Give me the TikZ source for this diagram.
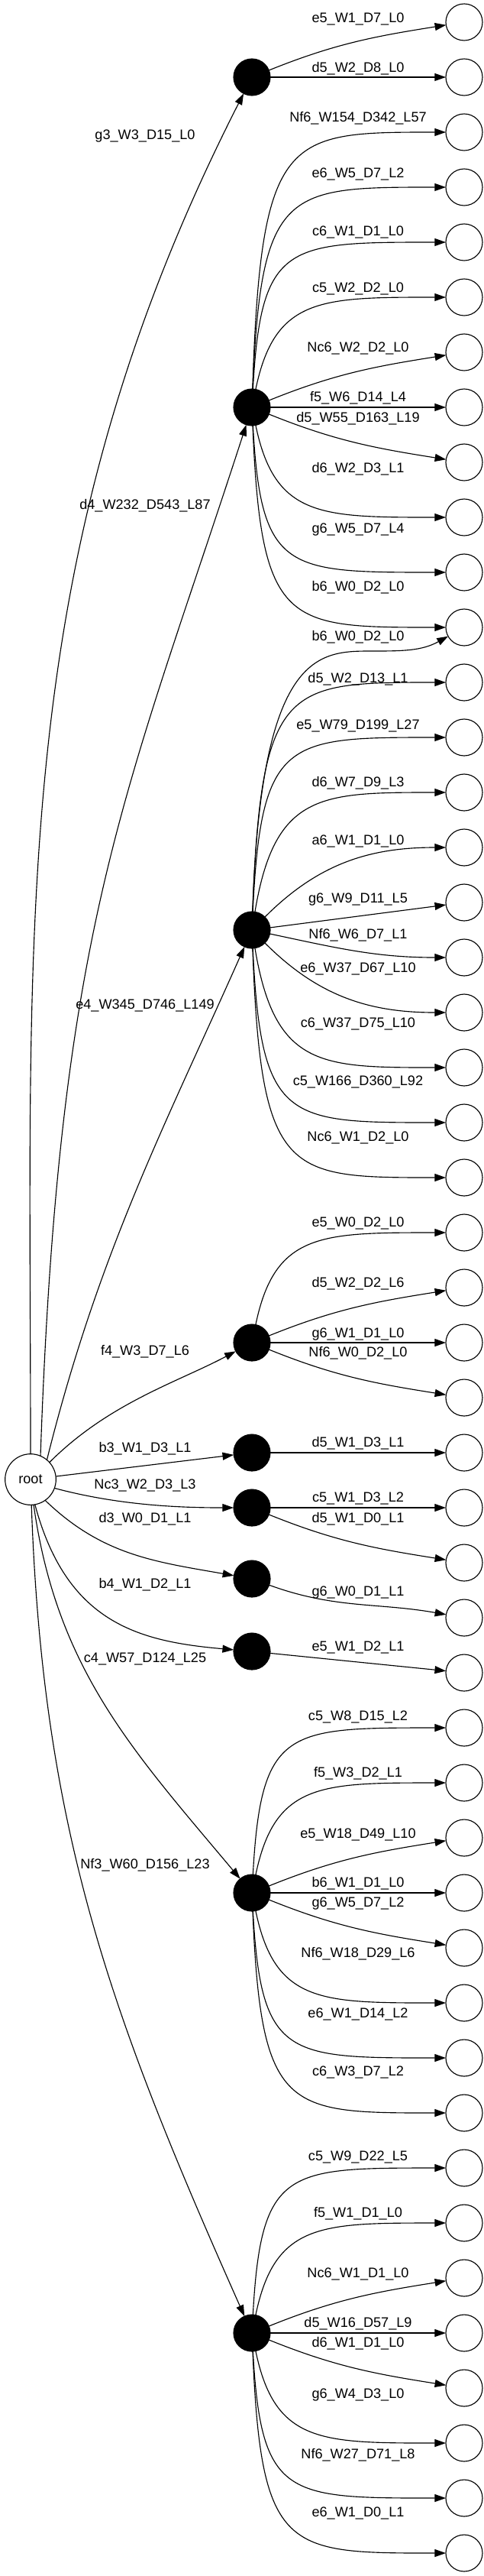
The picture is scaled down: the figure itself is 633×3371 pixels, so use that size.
\documentclass[tikz,border=0pt]{standalone}
\usepackage{fontspec}
\setmainfont{Liberation Sans}
\usetikzlibrary{arrows.meta,calc}

\begin{document}
\begin{tikzpicture}[x=0.75pt,y=0.75pt,
	leaf/.style={circle,draw,line width=0.85pt,minimum size=36pt,inner sep=0pt,outer sep=0pt},
	ply/.style={circle,draw,fill=black,line width=0.85pt,minimum size=36pt,inner sep=0pt,outer sep=0pt},
	rootnode/.style={circle,draw,line width=0.85pt,minimum size=50pt,inner sep=0pt,outer sep=0pt,font=\fontsize{13.6pt}{16pt}\selectfont},
	lab/.style={inner sep=0pt,font=\fontsize{13.6pt}{16pt}\selectfont},
	branch/.style={line width=0.85pt,-{Triangle[length=11pt,width=7.5pt]}},
	upone/.style={out=22,in=189},
	downone/.style={out=-22,in=171},
	midbend/.style={to path={.. controls ($(\tikztostart |- \tikztotarget)+(30,0)$) and ($(\tikztostart |- \tikztotarget)+(90,0)$) .. (\tikztotarget) \tikztonodes}},
	farbend/.style={to path={.. controls ($(\tikztostart |- \tikztotarget)+(12,0)$) and ($(\tikztostart |- \tikztotarget)+(45,0)$) .. (\tikztotarget) \tikztonodes}}]
	\useasboundingbox (0,0) rectangle (633,-3371);
	% arrel
	\node[rootnode] (root) at (40,-1936) {root};
	% jugades
	\node[ply] (g3) at (330,-101) {};
	\node[ply] (d4) at (330,-533) {};
	\node[ply] (e4) at (330,-1217) {};
	\node[ply] (f4) at (330,-1757) {};
	\node[ply] (b3) at (330,-1901) {};
	\node[ply] (Nc3) at (330,-1973) {};
	\node[ply] (d3) at (330,-2066) {};
	\node[ply] (b4) at (330,-2161) {};
	\node[ply] (c4) at (330,-2477) {};
	\node[ply] (Nf3) at (330,-3053) {};
	% fulles
	\node[leaf] (l0) at (608,-29) {};
	\node[leaf] (l1) at (608,-101) {};
	\node[leaf] (l2) at (608,-173) {};
	\node[leaf] (l3) at (608,-245) {};
	\node[leaf] (l4) at (608,-317) {};
	\node[leaf] (l5) at (608,-389) {};
	\node[leaf] (l6) at (608,-461) {};
	\node[leaf] (l7) at (608,-533) {};
	\node[leaf] (l8) at (608,-605) {};
	\node[leaf] (l9) at (608,-677) {};
	\node[leaf] (l10) at (608,-749) {};
	\node[leaf] (l11) at (608,-821) {};
	\node[leaf] (l12) at (608,-893) {};
	\node[leaf] (l13) at (608,-965) {};
	\node[leaf] (l14) at (608,-1037) {};
	\node[leaf] (l15) at (608,-1109) {};
	\node[leaf] (l16) at (608,-1181) {};
	\node[leaf] (l17) at (608,-1253) {};
	\node[leaf] (l18) at (608,-1325) {};
	\node[leaf] (l19) at (608,-1397) {};
	\node[leaf] (l20) at (608,-1469) {};
	\node[leaf] (l21) at (608,-1541) {};
	\node[leaf] (l22) at (608,-1613) {};
	\node[leaf] (l23) at (608,-1685) {};
	\node[leaf] (l24) at (608,-1757) {};
	\node[leaf] (l25) at (608,-1829) {};
	\node[leaf] (l26) at (608,-1901) {};
	\node[leaf] (l27) at (608,-1973) {};
	\node[leaf] (l28) at (608,-2045) {};
	\node[leaf] (l29) at (608,-2117) {};
	\node[leaf] (l30) at (608,-2189) {};
	\node[leaf] (l31) at (608,-2261) {};
	\node[leaf] (l32) at (608,-2333) {};
	\node[leaf] (l33) at (608,-2405) {};
	\node[leaf] (l34) at (608,-2477) {};
	\node[leaf] (l35) at (608,-2549) {};
	\node[leaf] (l36) at (608,-2621) {};
	\node[leaf] (l37) at (608,-2693) {};
	\node[leaf] (l38) at (608,-2765) {};
	\node[leaf] (l39) at (608,-2837) {};
	\node[leaf] (l40) at (608,-2909) {};
	\node[leaf] (l41) at (608,-2981) {};
	\node[leaf] (l42) at (608,-3053) {};
	\node[leaf] (l43) at (608,-3125) {};
	\node[leaf] (l44) at (608,-3197) {};
	\node[leaf] (l45) at (608,-3269) {};
	\node[leaf] (l46) at (608,-3341) {};
	\coordinate (w) at (487,-852);
	% arrel -> jugades
	\draw[branch] (root.north) .. controls +(90:705) and ($(g3)+(-117:705)$) .. (g3);
	\draw[branch] (root.67) .. controls +(88:699) and ($(d4)+(-108:538)$) .. (d4);
	\draw[branch] (root.50) .. controls +(76:280) and ($(e4)+(-114:280)$) .. (e4);
	\draw[branch] (root.42) .. controls +(45:110) and ($(f4)+(-152:110)$) .. (f4);
	\draw[branch] (root) -- (b3);
	\draw[branch] (root.-20) .. controls +(-15:90) and ($(Nc3)+(180:90)$) .. (Nc3);
	\draw[branch] (root.-55) .. controls +(-44:104) and ($(d3)+(170:128)$) .. (d3);
	\draw[branch] (root.-80) .. controls +(-75:160) and ($(b4)+(175:150)$) .. (b4);
	\draw[branch] (root.-83) .. controls +(-82:218) and ($(c4)+(130:242)$) .. (c4);
	\draw[branch] (root.-88) .. controls +(-88:429) and ($(Nf3)+(114:453)$) .. (Nf3);
	\node[lab] (t-g3) at (190,-178) {g3\_W3\_D15\_L0};
	\node[lab] (t-d4) at (190,-662) {d4\_W232\_D543\_L87};
	\node[lab] (t-e4) at (190,-1316) {e4\_W345\_D746\_L149};
	\node[lab] (t-f4) at (190,-1769) {f4\_W3\_D7\_L6};
	\node[lab] (t-b3) at (190,-1896) {b3\_W1\_D3\_L1};
	\node[lab] (t-Nc3) at (190,-1944) {Nc3\_W2\_D3\_L3};
	\node[lab] (t-d3) at (190,-1988) {d3\_W0\_D1\_L1};
	\node[lab] (t-b4) at (190,-2074) {b4\_W1\_D2\_L1};
	\node[lab] (t-c4) at (190,-2171) {c4\_W57\_D124\_L25};
	\node[lab] (t-Nf3) at (190,-2441) {Nf3\_W60\_D156\_L23};
	% g3
	\draw[branch] (g3) to[upone] (l0);
	\draw[branch] (g3) -- (l1);
	% d4
	\draw[branch] (d4) to[farbend] (l2);
	\draw[branch] (d4) to[farbend] (l3);
	\draw[branch] (d4) to[farbend] (l4);
	\draw[branch] (d4) to[midbend] (l5);
	\draw[branch] (d4) to[upone] (l6);
	\draw[branch] (d4) -- (l7);
	\draw[branch] (d4) to[downone] (l8);
	\draw[branch] (d4) to[midbend] (l9);
	\draw[branch] (d4) to[farbend] (l10);
	\draw[branch] (d4) to[farbend] (l11);
	% e4
	\draw[branch] (e4) .. controls ($(e4 |- w)+(12,0)$) and ($(w)+(-70,0)$) .. (w) to[out=0,in=209] (l11);
	\draw[branch] (e4) to[farbend] (l12);
	\draw[branch] (e4) to[farbend] (l13);
	\draw[branch] (e4) to[midbend] (l14);
	\draw[branch] (e4) to[out=45,in=180] (l15);
	\draw[branch] (e4) -- (l16);
	\draw[branch] (e4) to[out=-12,in=180] (l17);
	\draw[branch] (e4) to[out=-45,in=180] (l18);
	\draw[branch] (e4) to[midbend] (l19);
	\draw[branch] (e4) to[farbend] (l20);
	\draw[branch] (e4) to[farbend] (l21);
	% f4
	\draw[branch] (f4) to[midbend] (l22);
	\draw[branch] (f4) to[upone] (l23);
	\draw[branch] (f4) -- (l24);
	\draw[branch] (f4) to[downone] (l25);
	% b3, Nc3, d3, b4
	\draw[branch] (b3) -- (l26);
	\draw[branch] (Nc3) -- (l27);
	\draw[branch] (Nc3) to[downone] (l28);
	\draw[branch] (d3) to[out=-20,in=170] (l29);
	\draw[branch] (b4) -- (l30);
	% c4
	\draw[branch] (c4) to[farbend] (l31);
	\draw[branch] (c4) to[midbend] (l32);
	\draw[branch] (c4) to[upone] (l33);
	\draw[branch] (c4) -- (l34);
	\draw[branch] (c4) to[downone] (l35);
	\draw[branch] (c4) to[midbend] (l36);
	\draw[branch] (c4) to[farbend] (l37);
	\draw[branch] (c4) to[farbend] (l38);
	% Nf3
	\draw[branch] (Nf3) to[farbend] (l39);
	\draw[branch] (Nf3) to[midbend] (l40);
	\draw[branch] (Nf3) to[upone] (l41);
	\draw[branch] (Nf3) -- (l42);
	\draw[branch] (Nf3) to[downone] (l43);
	\draw[branch] (Nf3) to[midbend] (l44);
	\draw[branch] (Nf3) to[farbend] (l45);
	\draw[branch] (Nf3) to[farbend] (l46);
	% textos
	\node[lab] (t0) at (469,-25) {e5\_W1\_D7\_L0};
	\node[lab] (t1) at (469,-90) {d5\_W2\_D8\_L0};
	\node[lab] (t2) at (469,-155) {Nf6\_W154\_D342\_L57};
	\node[lab] (t3) at (469,-228) {e6\_W5\_D7\_L2};
	\node[lab] (t4) at (469,-304) {c6\_W1\_D1\_L0};
	\node[lab] (t5) at (469,-378) {c5\_W2\_D2\_L0};
	\node[lab] (t6) at (469,-456) {Nc6\_W2\_D2\_L0};
	\node[lab] (t7) at (469,-521) {f5\_W6\_D14\_L4};
	\node[lab] (t8) at (469,-548) {d5\_W55\_D163\_L19};
	\node[lab] (t9) at (469,-614) {d6\_W2\_D3\_L1};
	\node[lab] (t10) at (469,-693) {g6\_W5\_D7\_L4};
	\node[lab] (t11) at (469,-769) {b6\_W0\_D2\_L0};
	\node[lab] (t12) at (469,-834) {b6\_W0\_D2\_L0};
	\node[lab] (t13) at (469,-889) {d5\_W2\_D13\_L1};
	\node[lab] (t14) at (469,-950) {e5\_W79\_D199\_L27};
	\node[lab] (t15) at (469,-1025) {d6\_W7\_D9\_L3};
	\node[lab] (t16) at (469,-1101) {a6\_W1\_D1\_L0};
	\node[lab] (t17) at (469,-1177) {g6\_W9\_D11\_L5};
	\node[lab] (t18) at (469,-1224) {Nf6\_W6\_D7\_L1};
	\node[lab] (t19) at (469,-1268) {e6\_W37\_D67\_L10};
	\node[lab] (t20) at (469,-1340) {c6\_W37\_D75\_L10};
	\node[lab] (t21) at (469,-1416) {c5\_W166\_D360\_L92};
	\node[lab] (t22) at (469,-1489) {Nc6\_W1\_D2\_L0};
	\node[lab] (t23) at (469,-1601) {e5\_W0\_D2\_L0};
	\node[lab] (t24) at (469,-1680) {d5\_W2\_D2\_L6};
	\node[lab] (t25) at (469,-1746) {g6\_W1\_D1\_L0};
	\node[lab] (t26) at (469,-1771) {Nf6\_W0\_D2\_L0};
	\node[lab] (t27) at (469,-1889) {d5\_W1\_D3\_L1};
	\node[lab] (t28) at (469,-1961) {c5\_W1\_D3\_L2};
	\node[lab] (t29) at (469,-1988) {d5\_W1\_D0\_L1};
	\node[lab] (t30) at (469,-2084) {g6\_W0\_D1\_L1};
	\node[lab] (t31) at (469,-2156) {e5\_W1\_D2\_L1};
	\node[lab] (t32) at (469,-2247) {c5\_W8\_D15\_L2};
	\node[lab] (t33) at (469,-2321) {f5\_W3\_D2\_L1};
	\node[lab] (t34) at (469,-2401) {e5\_W18\_D49\_L10};
	\node[lab] (t35) at (469,-2465) {b6\_W1\_D1\_L0};
	\node[lab] (t36) at (469,-2491) {g6\_W5\_D7\_L2};
	\node[lab] (t37) at (469,-2557) {Nf6\_W18\_D29\_L6};
	\node[lab] (t38) at (469,-2636) {e6\_W1\_D14\_L2};
	\node[lab] (t39) at (469,-2712) {c6\_W3\_D7\_L2};
	\node[lab] (t40) at (469,-2823) {c5\_W9\_D22\_L5};
	\node[lab] (t41) at (469,-2897) {f5\_W1\_D1\_L0};
	\node[lab] (t42) at (469,-2976) {Nc6\_W1\_D1\_L0};
	\node[lab] (t43) at (469,-3041) {d5\_W16\_D57\_L9};
	\node[lab] (t44) at (469,-3067) {d6\_W1\_D1\_L0};
	\node[lab] (t45) at (469,-3134) {g6\_W4\_D3\_L0};
	\node[lab] (t46) at (469,-3213) {Nf6\_W27\_D71\_L8};
	\node[lab] (t47) at (469,-3289) {e6\_W1\_D0\_L1};
\end{tikzpicture}
\end{document}
